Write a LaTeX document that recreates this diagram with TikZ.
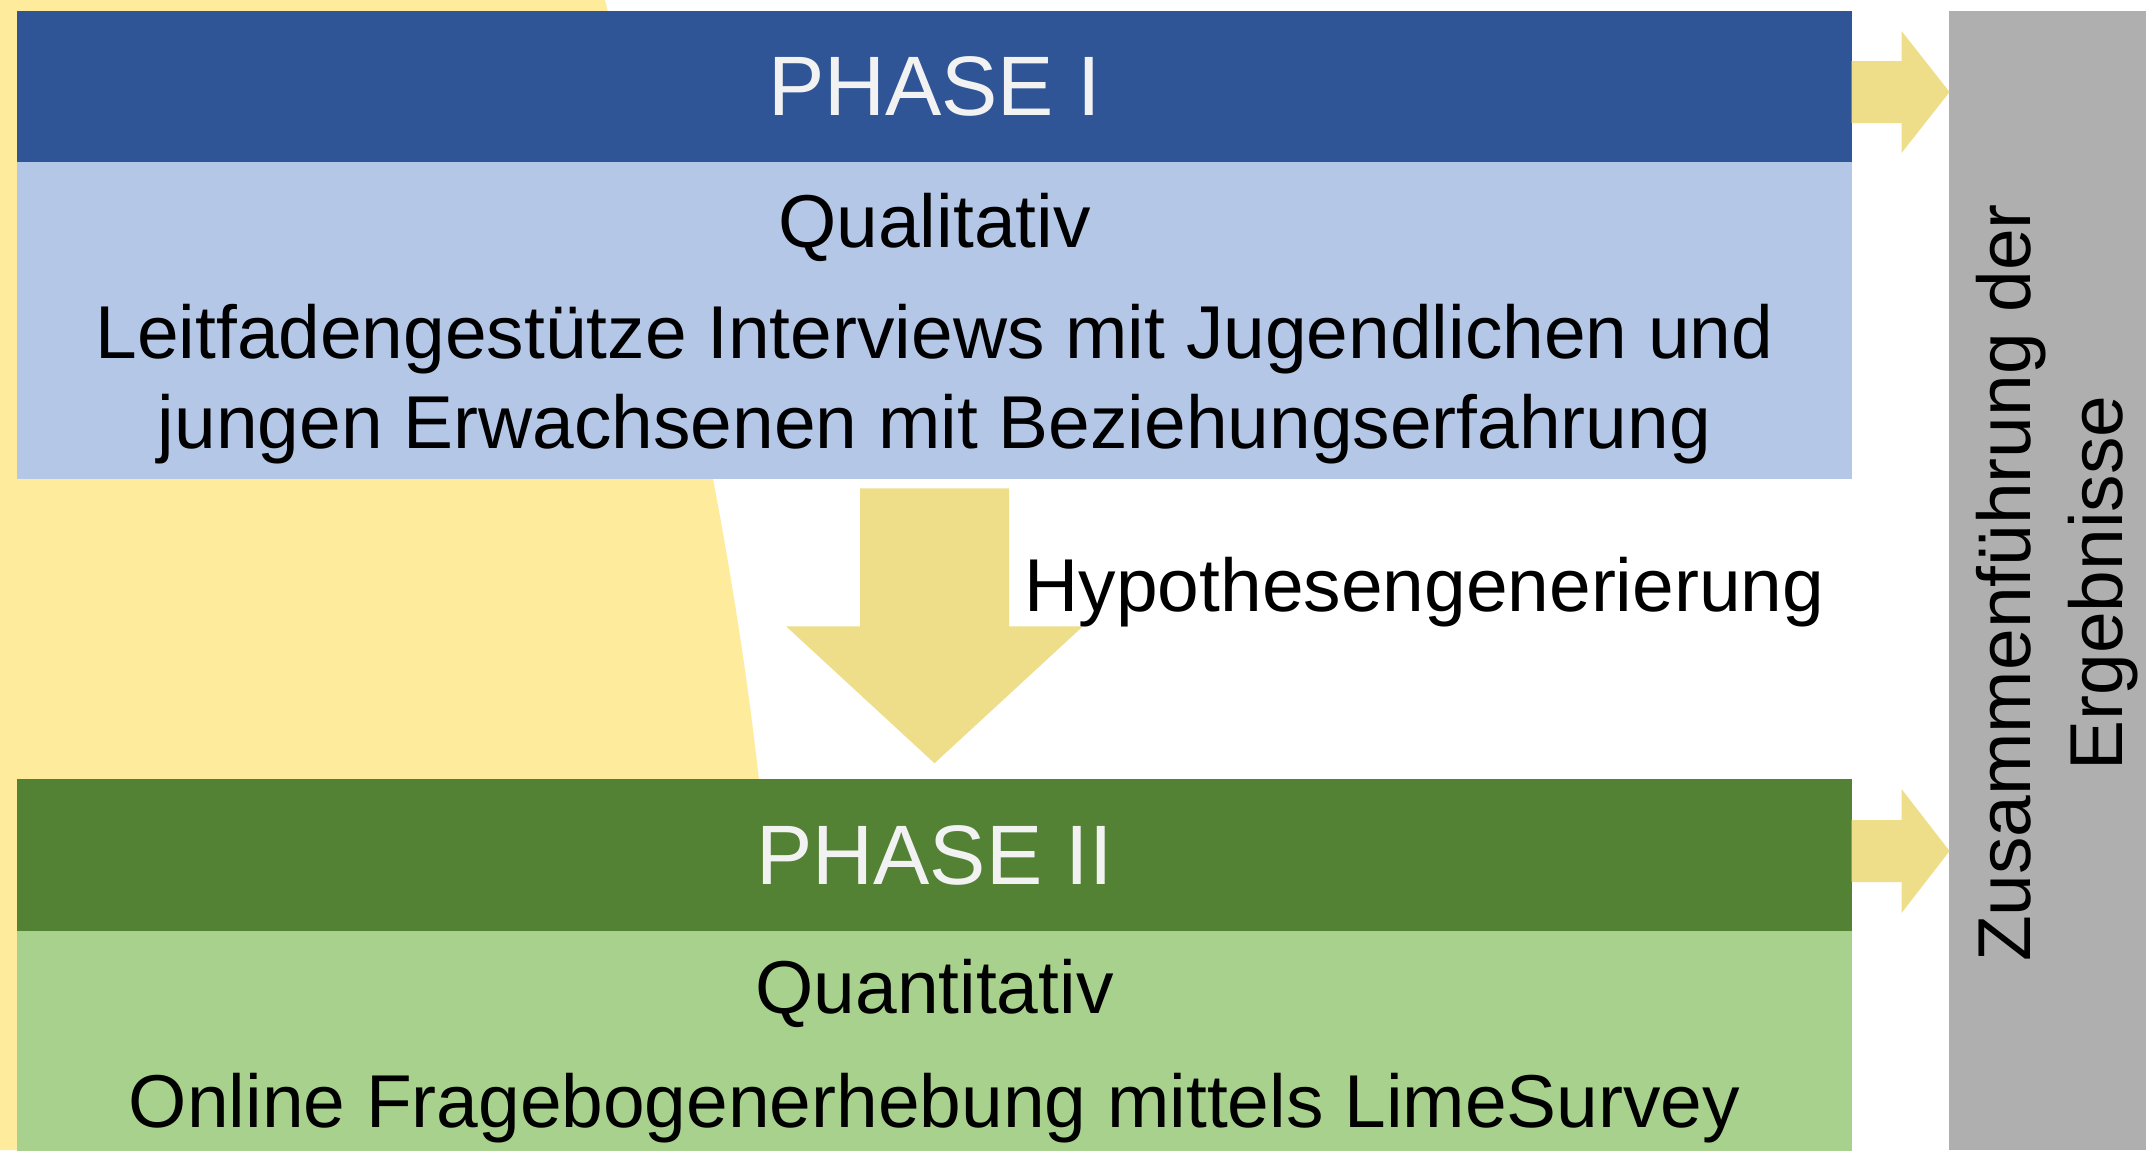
\documentclass[tikz,border=0pt]{standalone}
\usepackage{fontspec}
\setmainfont{Liberation Sans}
\usetikzlibrary{positioning,calc}

\definecolor{kopfblau}{HTML}{2F5597}
\definecolor{hellblau}{HTML}{B4C7E7}
\definecolor{kopfgruen}{HTML}{548235}
\definecolor{hellgruen}{HTML}{A9D18E}
\definecolor{hintergrund}{HTML}{FFEB9C}
\definecolor{pfeilgelb}{HTML}{EEDE8A}
\definecolor{grau}{HTML}{AFAFAF}
\definecolor{schrift}{HTML}{F2F2F2}

\begin{document}
\begin{tikzpicture}[x=0.01cm, y=-0.01cm,
        kopf/.style={minimum width=18.33cm, minimum height=1.51cm, inner sep=0pt, outer sep=0pt, text=schrift, font=\fontsize{24}{28}\selectfont},
        feld/.style={minimum width=18.33cm, inner sep=0pt, outer sep=0pt},
        txt/.style={inner sep=0pt, anchor=base, font=\fontsize{21.3}{25.6}\selectfont},
        pfeil/.style={fill=pfeilgelb}]
    \useasboundingbox (0,0) rectangle (2149,1150);
    % Hintergrund
    \fill[white] (0,0) rectangle (2149,1150);
    \fill[hintergrund] (0,0) -- (605,0) .. controls (670,260) and (730,520) .. (759,780) -- (759,1150) -- (0,1150) -- cycle;

    % Phase I
    \node[kopf, fill=kopfblau] (p1) at (934.5,86.5) {PHASE I};
    \node[feld, fill=hellblau, minimum height=3.17cm, below=0pt of p1] (b1) {};
    \node[txt] (qual) at ($(b1.north)+(0,85)$) {Qualitativ};
    \node[txt] (leit1) at ($(b1.north)+(0,196)$) {Leitfadengestütze Interviews mit Jugendlichen und};
    \node[txt, below=0.9cm of leit1.base, anchor=base] (leit2) {jungen Erwachsenen mit Beziehungserfahrung};

    % Phase II
    \node[kopf, fill=kopfgruen] (p2) at (934.5,855) {PHASE II};
    \node[feld, fill=hellgruen, minimum height=2.2cm, below=0pt of p2] (b2) {};
    \node[txt] (quant) at ($(b2.north)+(0,83)$) {Quantitativ};
    \node[txt] (online) at ($(b2.north)+(0,197)$) {Online Fragebogenerhebung mittels LimeSurvey};

    % Zusammenfuehrung
    \node[fill=grau, minimum width=1.97cm, minimum height=11.39cm, inner sep=0pt, outer sep=0pt] (erg) at (2047.5,580.5) {};
    \node[txt, rotate=90] (zus1) at (2030,583) {Zusammenführung der};
    \node[txt, rotate=90] (zus2) at (2122,583) {Ergebnisse};

    % Pfeile
    \fill[pfeil] ($(b1.south)+(-74.5,9)$) -- ++(149,0) -- ++(0,138) -- ++(74,0) -- ++(-148.5,137) -- ++(-148.5,-137) -- ++(74,0) -- cycle;
    \fill[pfeil] ($(p1.east)+(0,-25.5)$) -- ++(50,0) -- ++(0,-30) -- ++(48,61) -- ++(-48,61) -- ++(0,-30) -- ++(-50,0) -- cycle;
    \fill[pfeil] ($(p2.east)+(0,-35)$) -- ++(50,0) -- ++(0,-31) -- ++(48,62) -- ++(-48,62) -- ++(0,-31) -- ++(-50,0) -- cycle;
    \node[txt, anchor=base west] (hyp) at (1024,611) {Hypothesengenerierung};
\end{tikzpicture}
\end{document}
